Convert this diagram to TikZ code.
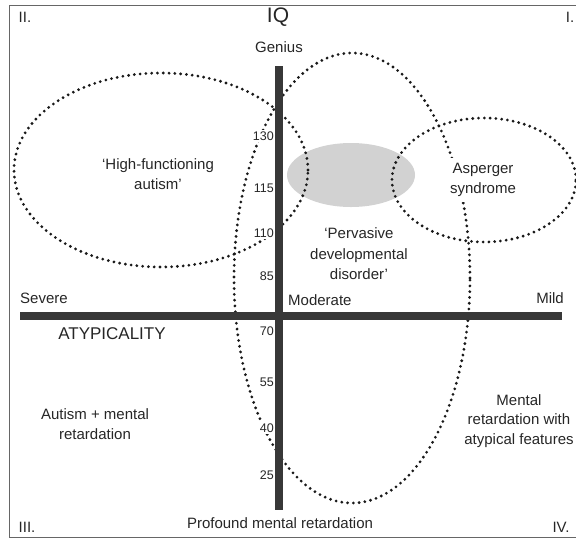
\documentclass[tikz,border=0pt]{standalone}
\usepackage{fontspec}
\setmainfont{Liberation Sans}
\begin{document}
\begin{tikzpicture}[x=1pt,y=-1pt,
  dots/.style={line width=3.1pt, dash pattern=on 0pt off 5.8pt, line cap=round, draw=black!90},
  axisbar/.style={line width=7.5pt, draw=black!78},
  lbl/.style={font=\fontsize{15}{20.5}\selectfont, align=center, inner sep=1pt, text=black!85},
  num/.style={font=\fontsize{12.5}{14}\selectfont, anchor=east, fill=white, inner xsep=1pt, inner ysep=1.5pt, text=black!85},
  frameline/.style={draw=black!60, line width=1pt}]
\useasboundingbox (0,0) rectangle (576,542);
% frame
\draw[frameline] (578,5) -- (9,5) -- (9,537) -- (578,537);
% shaded region
\fill[gray!35] (351,175) ellipse [x radius=64pt, y radius=32pt];
% dotted regions
\draw[dots] (161,170) ellipse [x radius=147pt, y radius=97pt];
\draw[dots] (352,278) ellipse [x radius=118pt, y radius=225pt];
\draw[dots] (484,180) ellipse [x radius=92pt, y radius=62pt];
% IQ scale
\node[num] (n130) at (275,136) {130};
\node[num] (n115) at (275,188) {115};
\node[num] (n110) at (275,233) {110};
\node[num] (n85) at (275,276) {85};
\node[num] (n70) at (275,331) {70};
\node[num] (n55) at (275,382) {55};
\node[num] (n40) at (275,428) {40};
\node[num] (n25) at (275,475) {25};
% axes
\coordinate (vtop) at (279,66);
\coordinate (vbot) at (279,510);
\coordinate (hleft) at (20,316);
\coordinate (hright) at (562,316);
\draw[axisbar] (vtop) -- (vbot);
\draw[axisbar] (hleft) -- (hright);
% region labels
\node[lbl, fill=white, inner xsep=3pt, inner ysep=5pt] (asp) at (483,180) {Asperger\\syndrome};
\node[lbl] (hfa) at (158,174) {‘High-functioning\\autism’};
\node[lbl] (pdd) at (359,254) {‘Pervasive\\developmental\\disorder’};
\node[lbl] (amr) at (95,424) {Autism + mental\\retardation};
\node[lbl, font=\fontsize{15}{19.5}\selectfont] (mra) at (519,421) {Mental\\retardation with\\atypical features};
% corner labels
\node[lbl] (q2) at (25,17) {II.};
\node[lbl] (q1) at (570,17) {I.};
\node[lbl] (q3) at (27,527) {III.};
\node[lbl] (q4) at (561,527) {IV.};
% axis labels
\node[lbl, font=\fontsize{21}{24}\selectfont] (iq) at (278,17) {IQ};
\node[lbl] (genius) at (279,47) {Genius};
\node[lbl, anchor=west, inner sep=0pt] (severe) at (20,298) {Severe};
\node[lbl, anchor=west, inner sep=0pt] (moderate) at (288,300) {Moderate};
\node[lbl, anchor=east, inner sep=0pt] (mild) at (564,298) {Mild};
\node[lbl, font=\fontsize{17}{20}\selectfont] (atyp) at (112,334) {ATYPICALITY};
\node[lbl] (profound) at (280,523) {Profound mental retardation};
\end{tikzpicture}
\end{document}
